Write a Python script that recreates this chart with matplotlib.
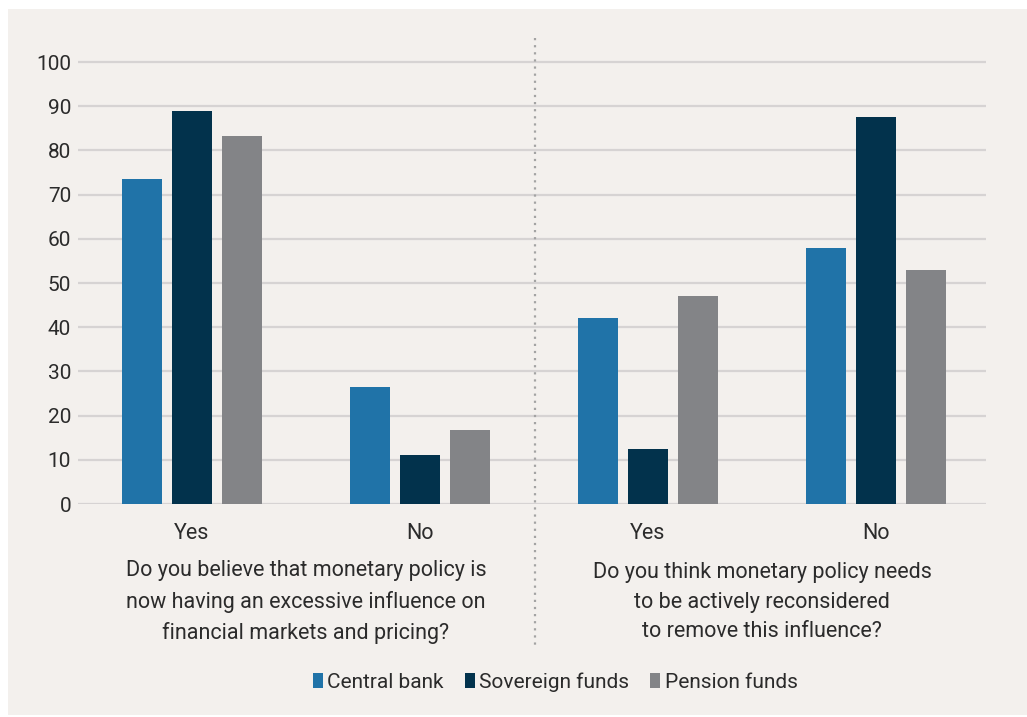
import matplotlib.pyplot as plt
from matplotlib.patches import Patch, Rectangle
import numpy as np

plt.rcParams['font.family'] = ['Roboto', 'DejaVu Sans']

answers = ['Yes', 'No', 'Yes', 'No']
questions = [
    'Do you believe that monetary policy is\nnow having an excessive influence on\nfinancial markets and pricing?',
    'Do you think monetary policy needs\nto be actively reconsidered\nto remove this influence?',
]
groups = ['Central bank', 'Sovereign funds', 'Pension funds']
central_bank = [73.5, 26.5, 42.1, 57.9]
sovereign_funds = [88.9, 11.1, 12.5, 87.5]
pension_funds = [83.3, 16.7, 47.1, 52.9]
yticks = [0, 10, 20, 30, 40, 50, 60, 70, 80, 90, 100]

colors = ['#2073a8', '#02324c', '#838487']
panel = '#f3f0ed'
ink = '#2b2b2b'

fig = plt.figure(figsize=(10.27, 7.17), dpi=100)
fig.patch.set_facecolor('white')
fig.patches.append(Rectangle((8 / 1027, 2 / 717), 1 - 8 / 1027, 706 / 717,
                             transform=fig.transFigure, facecolor=panel,
                             edgecolor='none', zorder=-10))

ax = fig.add_axes([78 / 1027, 1 - 504 / 717, 908 / 1027, 464 / 717])
ax.set_facecolor('none')

x = np.arange(len(answers))
w = 0.1754
step = 0.2206
for i, (vals, col) in enumerate(zip([central_bank, sovereign_funds, pension_funds], colors)):
    ax.bar(x + (i - 1) * step, vals, width=w, color=col, zorder=3)

ax.set_xlim(-0.5, 3.482)
ax.set_ylim(0, 105)
ax.set_yticks(yticks)
ax.set_yticklabels([str(v) for v in yticks], fontsize=15, color=ink)
ax.yaxis.grid(True, color='#d6d3d3', lw=1.6, zorder=0)
ax.tick_params(axis='y', length=0, pad=5)
ax.set_xticks(x)
ax.set_xticklabels(answers, fontsize=15.5, color=ink)
ax.tick_params(axis='x', length=0, pad=14)
for s in ax.spines.values():
    s.set_visible(False)

# dotted divider between the two questions
ax.plot([1.505, 1.505], [105.4, -31.9], color='#a3a3a3', lw=1.6,
        linestyle=(0, (1, 2.2)), clip_on=False, zorder=4)

for qx, q in zip([0.5, 2.5], questions):
    ax.text(qx, -22.2, q, ha='center', va='center', fontsize=15.5, color=ink,
            linespacing=1.55, transform=ax.transData)

handles = [Patch(facecolor=c, edgecolor='none') for c in colors]
fig.legend(handles, groups, loc='center', bbox_to_anchor=(555 / 1027, 1 - 682 / 717),
           ncol=3, frameon=False, fontsize=15, handlelength=0.5, handleheight=0.75,
           handletextpad=0.2, columnspacing=1.0, labelcolor=ink)

fig.savefig('out.png', dpi=100, facecolor='white')
